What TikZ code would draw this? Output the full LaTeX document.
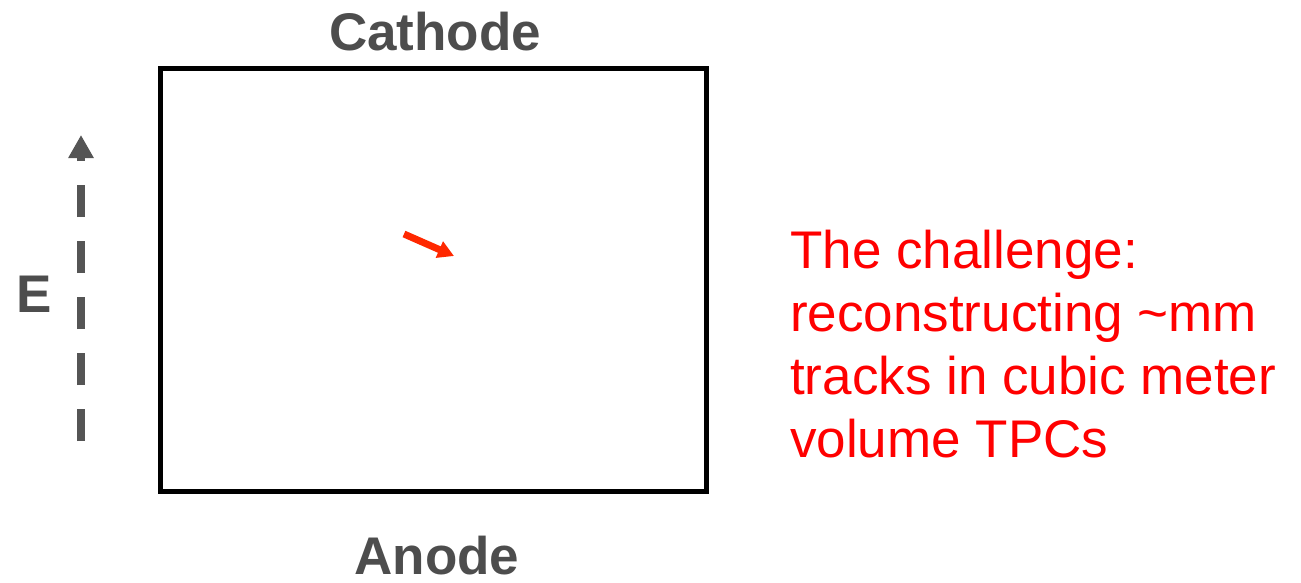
\documentclass[tikz,border=0pt]{standalone}
\usepackage{fontspec}
\setmainfont{Liberation Sans}
\usetikzlibrary{arrows.meta}
\definecolor{labelgray}{HTML}{4D4D4D}
\definecolor{fieldgray}{HTML}{555555}
\definecolor{trackred}{RGB}{255,40,0}
\begin{document}
\begin{tikzpicture}[x=1pt,y=-1pt,
  boldlabel/.style={font=\fontsize{53}{60}\selectfont\bfseries, text=labelgray, inner sep=0pt, anchor=base},
  redtext/.style={font=\fontsize{53}{63}\selectfont, text=red, inner sep=0pt, align=left, anchor=base west},
  fieldline/.style={draw=fieldgray, line width=8pt, dash pattern=on 32pt off 24pt, -{Triangle[length=23pt,width=24pt]}},
  trackarrow/.style={draw=trackred, line width=7pt, -{Triangle[length=16pt,width=17pt]}}]
\useasboundingbox (0,0) rectangle (1301,582);
\draw[line width=5pt] (160,68) rectangle (706,491);
\node[boldlabel] (cathode) at (435,50) {Cathode};
\node[boldlabel] (anode) at (437,574) {Anode};
\node[boldlabel] (efield) at (34,312) {E};
\coordinate (fieldstart) at (81,441);
\coordinate (fieldend) at (81,135);
\draw[fieldline] (fieldstart) -- (fieldend);
\coordinate (trackstart) at (404,234);
\coordinate (trackend) at (454,256);
\draw[trackarrow] (trackstart) -- (trackend);
\node[redtext] (challenge) at (790,457) {The challenge:\\reconstructing \textasciitilde mm\\tracks in cubic meter\\volume TPCs};
\end{tikzpicture}
\end{document}
